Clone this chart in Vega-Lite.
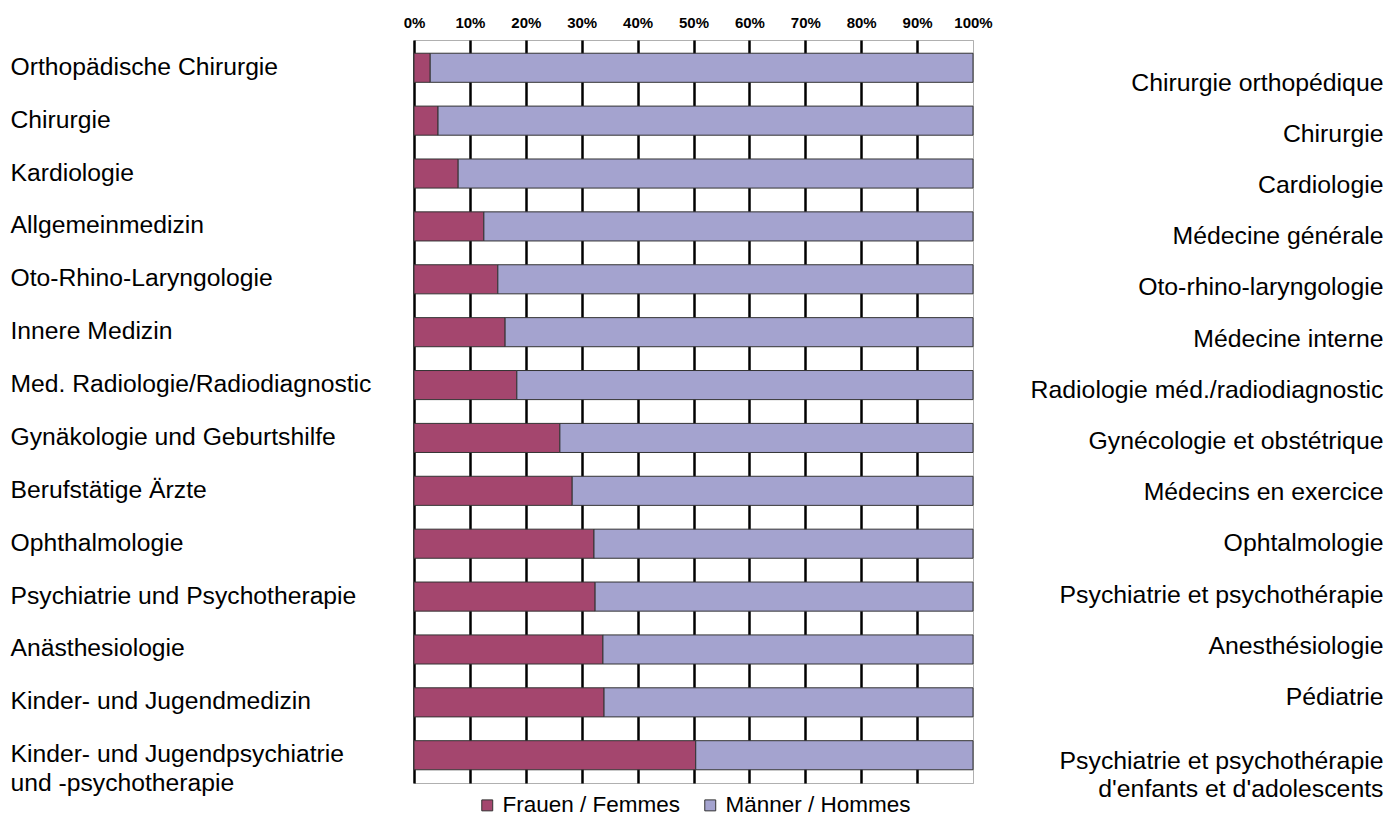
{
  "$schema": "https://vega.github.io/schema/vega-lite/v6.json",
  "width": 559,
  "height": 743,
  "autosize": {"type": "none"},
  "padding": {"left": 414, "top": 40, "right": 415, "bottom": 37},
  "background": "white",
  "config": {
    "font": "Liberation Sans",
    "view": {"stroke": "#b0b0b0", "strokeWidth": 1},
    "legend": {"layout": {"bottom": {"anchor": "middle"}}}
  },
  "data": {
    "values": [
      {"order": 1, "de": "Orthopädische Chirurgie", "fr": "Chirurgie orthopédique", "sex": "Frauen / Femmes", "pct": 2.9},
      {"order": 1, "de": "Orthopädische Chirurgie", "fr": "Chirurgie orthopédique", "sex": "Männer / Hommes", "pct": 97.1},
      {"order": 2, "de": "Chirurgie", "fr": "Chirurgie", "sex": "Frauen / Femmes", "pct": 4.3},
      {"order": 2, "de": "Chirurgie", "fr": "Chirurgie", "sex": "Männer / Hommes", "pct": 95.7},
      {"order": 3, "de": "Kardiologie", "fr": "Cardiologie", "sex": "Frauen / Femmes", "pct": 7.9},
      {"order": 3, "de": "Kardiologie", "fr": "Cardiologie", "sex": "Männer / Hommes", "pct": 92.1},
      {"order": 4, "de": "Allgemeinmedizin", "fr": "Médecine générale", "sex": "Frauen / Femmes", "pct": 12.5},
      {"order": 4, "de": "Allgemeinmedizin", "fr": "Médecine générale", "sex": "Männer / Hommes", "pct": 87.5},
      {"order": 5, "de": "Oto-Rhino-Laryngologie", "fr": "Oto-rhino-laryngologie", "sex": "Frauen / Femmes", "pct": 15.0},
      {"order": 5, "de": "Oto-Rhino-Laryngologie", "fr": "Oto-rhino-laryngologie", "sex": "Männer / Hommes", "pct": 85.0},
      {"order": 6, "de": "Innere Medizin", "fr": "Médecine interne", "sex": "Frauen / Femmes", "pct": 16.3},
      {"order": 6, "de": "Innere Medizin", "fr": "Médecine interne", "sex": "Männer / Hommes", "pct": 83.7},
      {"order": 7, "de": "Med. Radiologie/Radiodiagnostic", "fr": "Radiologie méd./radiodiagnostic", "sex": "Frauen / Femmes", "pct": 18.4},
      {"order": 7, "de": "Med. Radiologie/Radiodiagnostic", "fr": "Radiologie méd./radiodiagnostic", "sex": "Männer / Hommes", "pct": 81.6},
      {"order": 8, "de": "Gynäkologie und Geburtshilfe", "fr": "Gynécologie et obstétrique", "sex": "Frauen / Femmes", "pct": 26.1},
      {"order": 8, "de": "Gynäkologie und Geburtshilfe", "fr": "Gynécologie et obstétrique", "sex": "Männer / Hommes", "pct": 73.9},
      {"order": 9, "de": "Berufstätige Ärzte", "fr": "Médecins en exercice", "sex": "Frauen / Femmes", "pct": 28.3},
      {"order": 9, "de": "Berufstätige Ärzte", "fr": "Médecins en exercice", "sex": "Männer / Hommes", "pct": 71.7},
      {"order": 10, "de": "Ophthalmologie", "fr": "Ophtalmologie", "sex": "Frauen / Femmes", "pct": 32.2},
      {"order": 10, "de": "Ophthalmologie", "fr": "Ophtalmologie", "sex": "Männer / Hommes", "pct": 67.8},
      {"order": 11, "de": "Psychiatrie und Psychotherapie", "fr": "Psychiatrie et psychothérapie", "sex": "Frauen / Femmes", "pct": 32.4},
      {"order": 11, "de": "Psychiatrie und Psychotherapie", "fr": "Psychiatrie et psychothérapie", "sex": "Männer / Hommes", "pct": 67.6},
      {"order": 12, "de": "Anästhesiologie", "fr": "Anesthésiologie", "sex": "Frauen / Femmes", "pct": 33.8},
      {"order": 12, "de": "Anästhesiologie", "fr": "Anesthésiologie", "sex": "Männer / Hommes", "pct": 66.2},
      {"order": 13, "de": "Kinder- und Jugendmedizin", "fr": "Pédiatrie", "sex": "Frauen / Femmes", "pct": 34.0},
      {"order": 13, "de": "Kinder- und Jugendmedizin", "fr": "Pédiatrie", "sex": "Männer / Hommes", "pct": 66.0},
      {"order": 14, "de": "Kinder- und Jugendpsychiatrie|und -psychotherapie", "fr": "Psychiatrie et psychothérapie|d'enfants et d'adolescents", "sex": "Frauen / Femmes", "pct": 50.4},
      {"order": 14, "de": "Kinder- und Jugendpsychiatrie|und -psychotherapie", "fr": "Psychiatrie et psychothérapie|d'enfants et d'adolescents", "sex": "Männer / Hommes", "pct": 49.6}
    ]
  },
  "encoding": {
    "x": {
      "field": "pct",
      "type": "quantitative",
      "stack": "zero",
      "scale": {"domain": [0, 100], "nice": false},
      "axis": {
        "orient": "top",
        "values": [0, 10, 20, 30, 40, 50, 60, 70, 80, 90, 100],
        "labelExpr": "datum.value + '%'",
        "labelFlush": false,
        "labelFontWeight": "bold",
        "labelFontSize": 15,
        "labelColor": "#000000",
        "labelPadding": 10,
        "ticks": false,
        "domain": false,
        "grid": true,
        "gridColor": {"condition": {"test": "datum.value >= 100", "value": "#b0b0b0"}, "value": "#000000"},
        "gridWidth": {"condition": {"test": "datum.value >= 100", "value": 1}, "value": 2.5},
        "gridOpacity": 1,
        "title": null
      }
    }
  },
  "layer": [
    {
      "mark": {"type": "bar", "stroke": "#333333", "strokeWidth": 1},
      "encoding": {
        "y": {
          "field": "de",
          "type": "nominal",
          "sort": {"field": "order", "op": "min"},
          "scale": {"paddingInner": 0.45, "paddingOuter": 0.25},
          "axis": {
            "orient": "left",
            "title": null,
            "domain": false,
            "ticks": false,
            "tickSize": 0,
            "grid": false,
            "labelAlign": "left",
            "labelPadding": 404,
            "labelFontSize": 24.7,
            "labelColor": "#000000",
            "labelLimit": 1000,
            "labelLineHeight": 29,
            "labelExpr": "indexof(datum.label, '|') >= 0 ? split(datum.label, '|') : datum.label"
          }
        },
        "color": {
          "field": "sex",
          "type": "nominal",
          "scale": {"domain": ["Frauen / Femmes", "Männer / Hommes"], "range": ["#A4466E", "#A4A3CF"]},
          "legend": {
            "orient": "bottom",
            "direction": "horizontal",
            "title": null,
            "symbolType": "square",
            "symbolSize": 120,
            "symbolStrokeColor": "#333333",
            "symbolStrokeWidth": 1,
            "symbolOpacity": 1,
            "labelFontSize": 22.5,
            "labelColor": "#000000",
            "labelLimit": 1000,
            "columnPadding": 18,
            "labelOffset": 4,
            "offset": 11
          }
        }
      }
    },
    {
      "mark": {"type": "bar", "opacity": 0},
      "encoding": {
        "y": {
          "field": "fr",
          "type": "nominal",
          "sort": {"field": "order", "op": "min"},
          "scale": {"paddingInner": 0, "paddingOuter": 0.255, "align": 0.69},
          "axis": {
            "orient": "right",
            "title": null,
            "domain": false,
            "ticks": false,
            "tickSize": 0,
            "grid": false,
            "labelAlign": "right",
            "labelPadding": 410,
            "labelFontSize": 24.8,
            "labelColor": "#000000",
            "labelLimit": 1000,
            "labelLineHeight": 28,
            "labelBaseline": {"condition": {"test": "indexof(datum.value, '|') >= 0", "value": "top"}, "value": "middle"},
            "labelExpr": "indexof(datum.label, '|') >= 0 ? split(datum.label, '|') : datum.label"
          }
        }
      }
    }
  ],
  "resolve": {"scale": {"y": "independent"}, "axis": {"y": "independent"}}
}
